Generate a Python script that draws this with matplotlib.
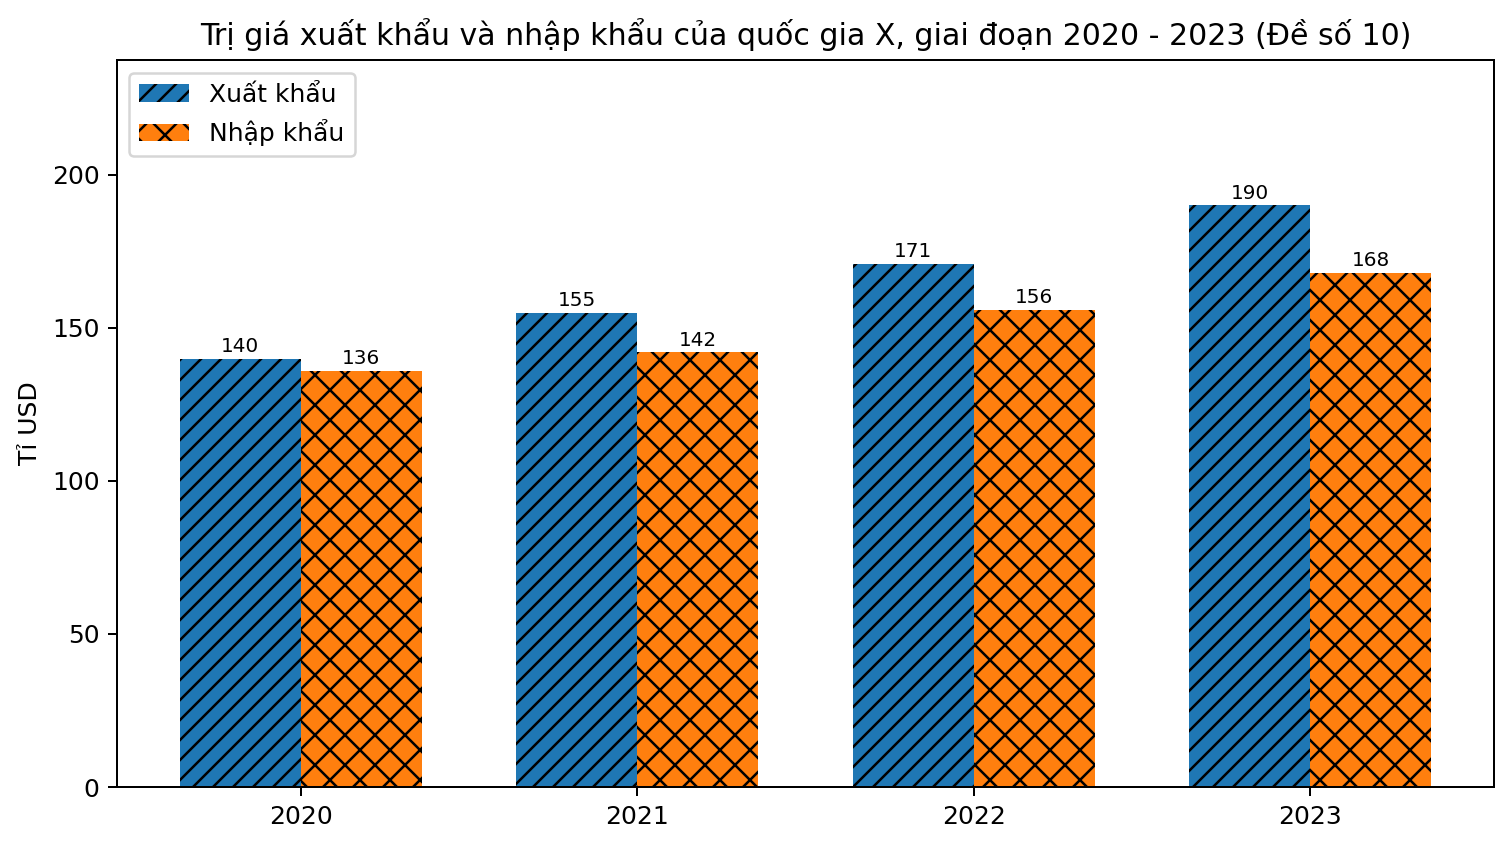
import matplotlib.pyplot as plt
import numpy as np

years = ['2020', '2021', '2022', '2023']
xuat_khau = [140, 155, 171, 190]
nhap_khau = [136, 142, 156, 168]

x = np.arange(len(years))
w = 0.36

fig, ax = plt.subplots(figsize=(1511 / 180, 846 / 180), dpi=180)
fig.subplots_adjust(left=0.0774, right=0.9887, top=0.929, bottom=0.0697)

b1 = ax.bar(x - w / 2, xuat_khau, w, color='#1f77b4', hatch='///', label='Xuất khẩu')
b2 = ax.bar(x + w / 2, nhap_khau, w, color='#ff7f0e', hatch='xx', label='Nhập khẩu')
ax.bar_label(b1, fontsize=8, padding=1)
ax.bar_label(b2, fontsize=8, padding=1)

ax.set_xticks(x, years)
ax.set_ylabel('Tỉ USD')
ax.set_ylim(0, max(xuat_khau) * 1.25)
ax.set_title('Trị giá xuất khẩu và nhập khẩu của quốc gia X, giai đoạn 2020 - 2023 (Đề số 10)')
ax.legend(loc='upper left')

fig.savefig('out.png', dpi=180)
